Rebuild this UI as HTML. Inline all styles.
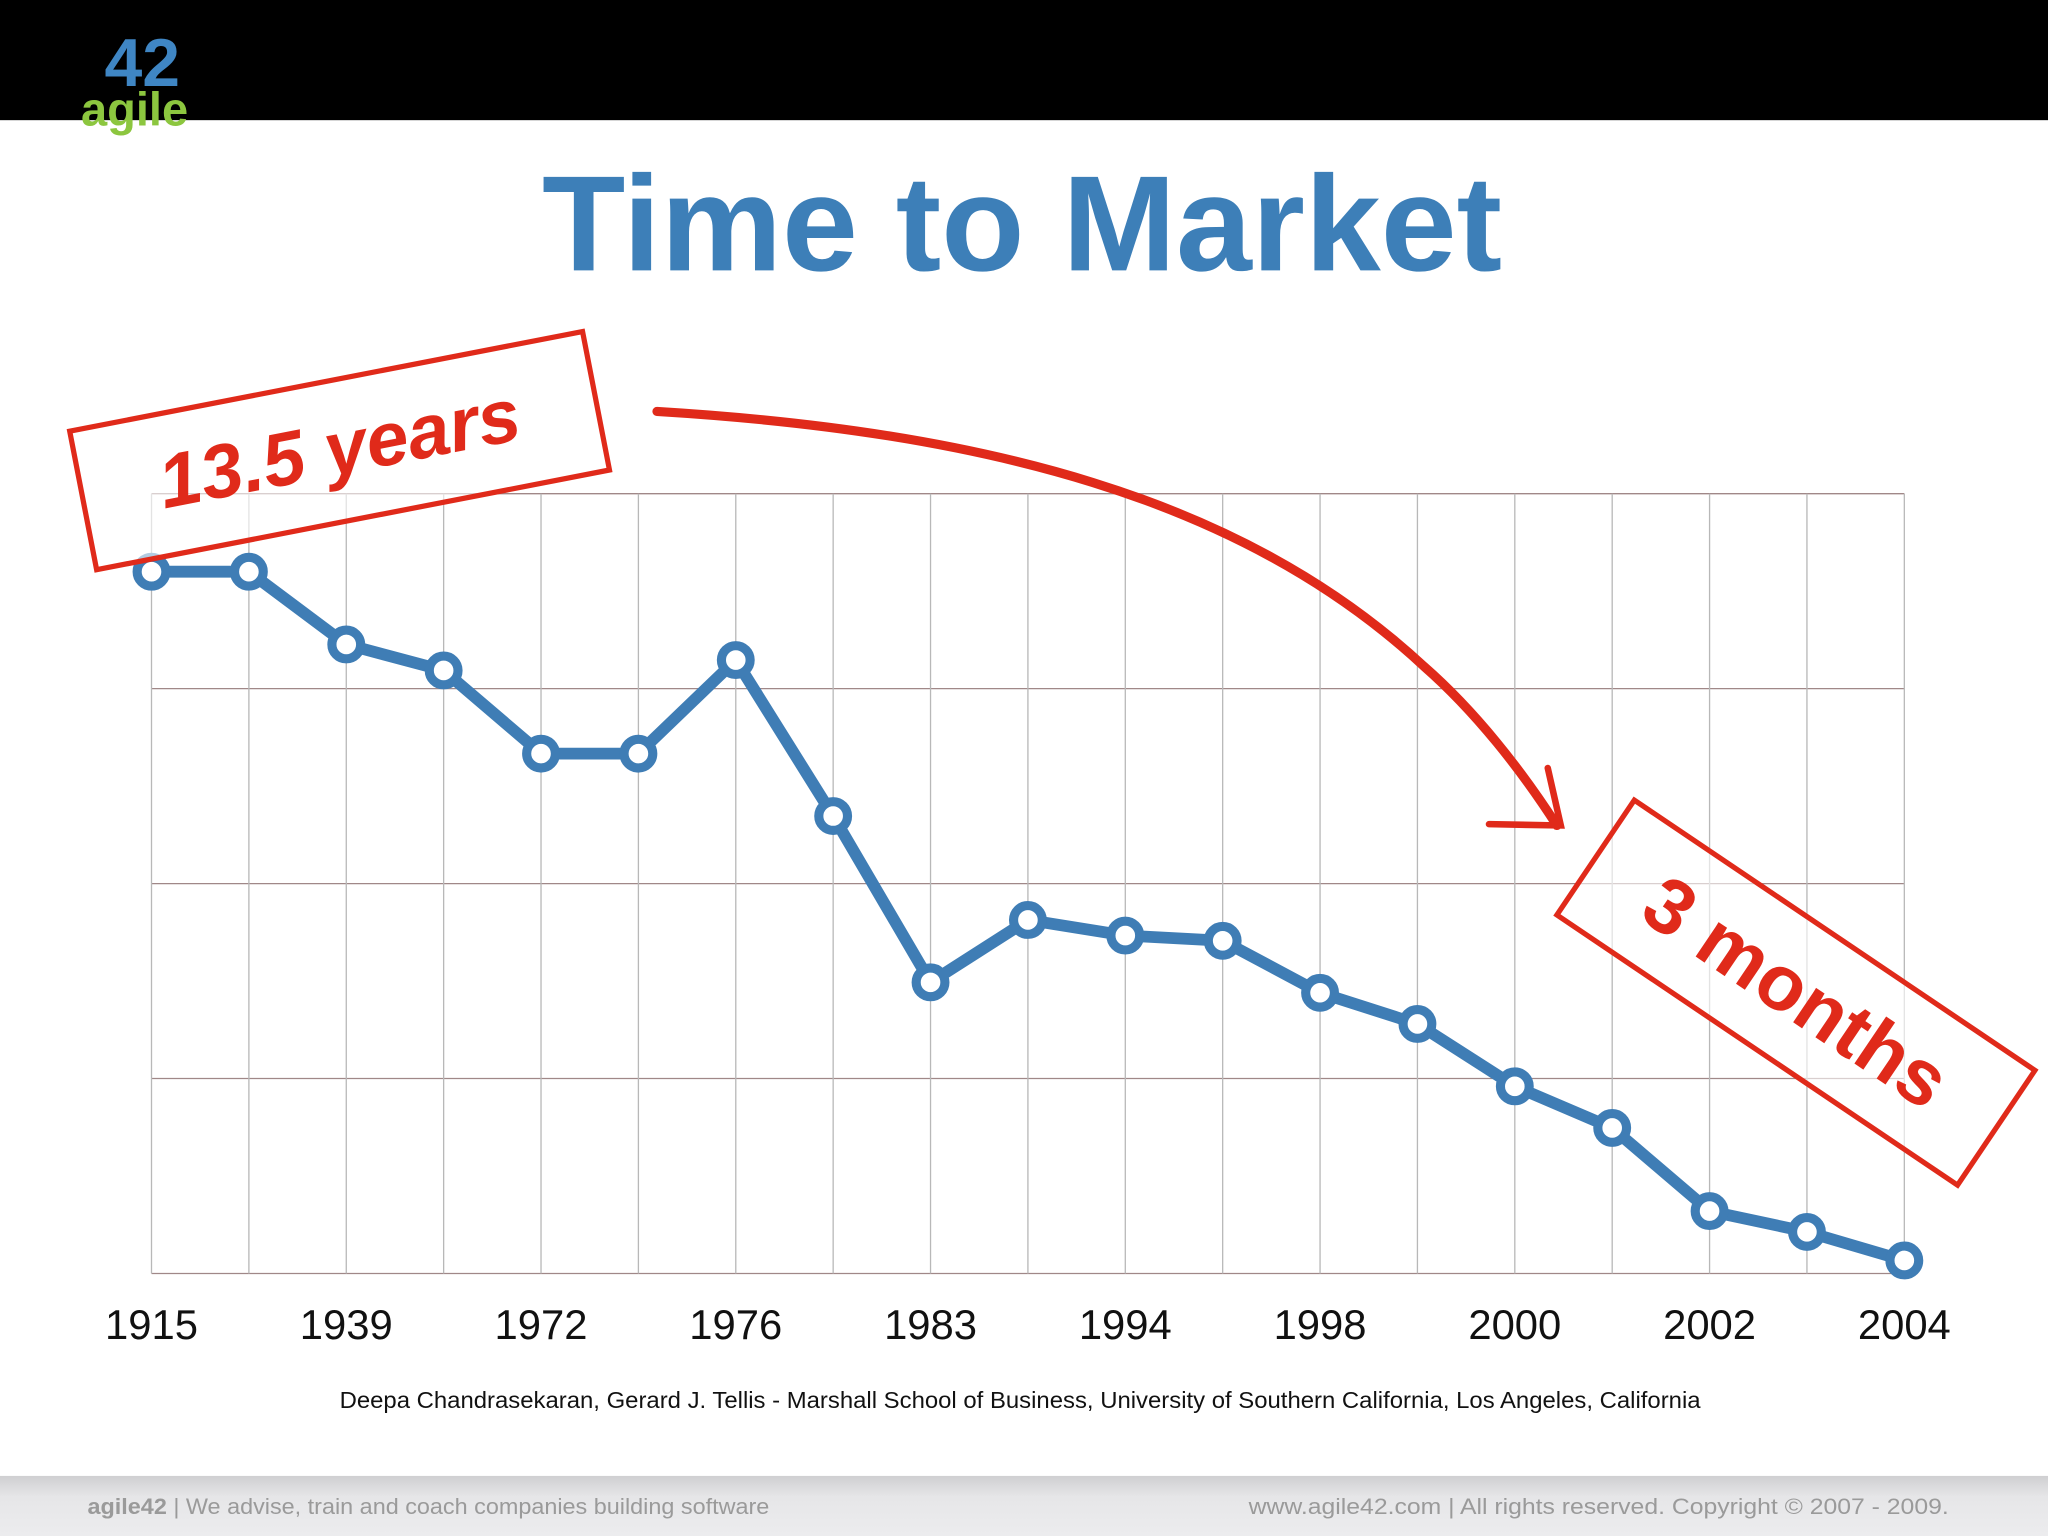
<!DOCTYPE html>
<html><head><meta charset="utf-8"><style>
html,body{margin:0;padding:0;background:#fff;}
svg{display:block;}
text{font-family:"Liberation Sans",sans-serif;}
</style></head><body>
<svg id="chart" width="2048" height="1536" viewBox="0 0 1568 1176" xmlns="http://www.w3.org/2000/svg">
<defs>
<linearGradient id="foot" x1="0" y1="0" x2="0" y2="1"><stop offset="0" stop-color="#cfcfd1"/><stop offset="0.35" stop-color="#e6e6e8"/><stop offset="1" stop-color="#ececee"/></linearGradient>
<linearGradient id="refl" x1="0" y1="0" x2="0" y2="1"><stop offset="0" stop-color="#3d7fb8" stop-opacity="0.45"/><stop offset="1" stop-color="#3d7fb8" stop-opacity="0"/></linearGradient>
</defs>
<rect x="0" y="0" width="1568" height="92" fill="#000"/>
<g>
<text x="80" y="66" font-size="52" font-weight="bold" fill="#3f86c4">42</text>
<text x="62" y="96" font-size="36" font-weight="bold" fill="#8cc63f">agile</text>
</g>
<g>
<text x="415" y="207" font-size="104" font-weight="bold" fill="#3d7fb8" textLength="735" lengthAdjust="spacingAndGlyphs">Time to Market</text>
<text x="415" y="207" font-size="104" font-weight="bold" fill="url(#refl)" textLength="735" lengthAdjust="spacingAndGlyphs" transform="translate(0,414) scale(1,-1)" clip-path="url(#rc)" opacity="0.6">Time to Market</text>
</g>
<clipPath id="rc"><rect x="0" y="207" width="1568" height="40"/></clipPath>
<g id="grid"></g>
<g id="xlabels"></g>
<g id="series"></g>
<g fill="none" stroke="#e02a1a" stroke-linecap="round">
<path d="M503,315 C750,330 950,380 1090,510 C1130,545 1165,590 1192,632" stroke-width="7"/>
<path d="M1185,588 L1195,632 L1140,631" stroke-width="5"/>
</g>
<g transform="translate(260,345) rotate(-11)">
<rect x="-200" y="-54" width="400" height="108" fill="rgba(255,255,255,0.6)" stroke="#e02a1a" stroke-width="4"/>
<text x="0" y="18" font-size="58" font-style="italic" font-weight="bold" fill="#e02a1a" text-anchor="middle">13.5 years</text>
</g>
<g transform="translate(1375,760) rotate(34)">
<rect x="-185" y="-53" width="370" height="106" fill="rgba(255,255,255,0.6)" stroke="#e02a1a" stroke-width="4"/>
<text x="0" y="20" font-size="60" font-weight="bold" fill="#e02a1a" text-anchor="middle">3 months</text>
</g>
<text x="260" y="1078" font-size="17.5" fill="#111" textLength="1042" lengthAdjust="spacingAndGlyphs">Deepa Chandrasekaran, Gerard J. Tellis - Marshall School of Business, University of Southern California, Los Angeles, California</text>
<rect x="0" y="1130" width="1568" height="46" fill="url(#foot)"/>
<text x="67" y="1159" font-size="17" fill="#9a9a9a" textLength="522" lengthAdjust="spacingAndGlyphs"><tspan font-weight="bold">agile42</tspan> | We advise, train and coach companies building software</text>
<text x="956" y="1159" font-size="17" fill="#9a9a9a" textLength="536" lengthAdjust="spacingAndGlyphs">www.agile42.com  |   All rights reserved. Copyright © 2007 - 2009.</text>
</svg>
<script>
const categories = ["1915","","1939","","1972","","1976","","1983","","1994","","1998","","2000","","2002","","2004"];
const yearsToMarket = [13.5,13.5,12.1,11.6,10,10,11.8,8.8,5.6,6.8,6.5,6.4,5.4,4.8,3.6,2.8,1.2,0.8,0.25];
const yTicks = [0,3.75,7.5,11.25,15];
const NS="http://www.w3.org/2000/svg";
const x0=116,x1=1458,yB=975,yT=378,yMax=15;
function xs(i){return x0+(x1-x0)*i/(categories.length-1);}
function ys(v){return yB-(yB-yT)*v/yMax;}
function mk(t,a,p){const e=document.createElementNS(NS,t);for(const k in a)e.setAttribute(k,a[k]);p.appendChild(e);return e;}
const grid=document.getElementById('grid');
yTicks.forEach(v=>{const l=mk('line',{x1:x0,x2:x1,y1:ys(v),y2:ys(v),stroke:'#a08888','stroke-width':1},grid);

});
categories.forEach((c,i)=>{const l=mk('line',{x1:xs(i),x2:xs(i),y1:yT,y2:yB,stroke:'#b8b8b8','stroke-width':1},grid);

});
const xl=document.getElementById('xlabels');
categories.forEach((c,i)=>{if(!c)return;const t=mk('text',{x:xs(i),y:1025,'font-size':32,fill:'#111','text-anchor':'middle'},xl);t.textContent=c;

});
const s=document.getElementById('series');
const pl=mk('polyline',{points:yearsToMarket.map((v,i)=>xs(i)+','+ys(v)).join(' '),fill:'none',stroke:'#3f7db5','stroke-width':9,'stroke-linejoin':'round'},s);


yearsToMarket.forEach((v,i)=>{const c=mk('circle',{cx:xs(i),cy:ys(v),r:11,fill:'#fff',stroke:'#3f7db5','stroke-width':7},s);

});
</script>
</body></html>
